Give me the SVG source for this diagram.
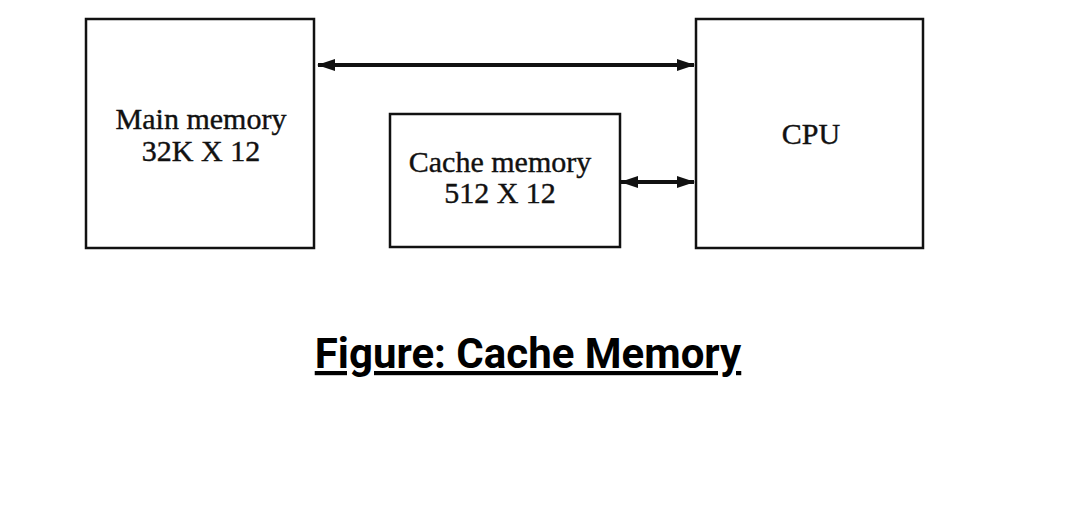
<svg xmlns="http://www.w3.org/2000/svg" width="1080" height="509" viewBox="0 0 1080 509">
<style>
.box{fill:#fff;stroke:#111;stroke-width:2.5}
.lbl{font-family:"Liberation Serif","Times New Roman",serif;font-size:30px;fill:#111;stroke:#111;stroke-width:0.4;text-anchor:middle}
.conn{stroke:#111;stroke-width:4;fill:none}
.cap{font-family:Roboto,"Liberation Sans",sans-serif;font-weight:bold;font-size:42px;fill:#000;text-anchor:middle;text-decoration:underline}
</style>
<defs>
<marker id="ah" viewBox="0 0 18 12" refX="17" refY="6" markerWidth="18" markerHeight="12" markerUnits="userSpaceOnUse" orient="auto-start-reverse">
<path d="M0,0 L18,6 L0,12 Z" fill="#111"/>
</marker>
</defs>
<rect width="1080" height="509" fill="#fff"/>
<g id="main-memory">
<rect class="box" x="86" y="19" width="228" height="229"/>
<text class="lbl" x="201" y="129">Main memory</text>
<text class="lbl" x="201" y="161">32K X 12</text>
</g>
<g id="cache-memory">
<rect class="box" x="390" y="114" width="230" height="133"/>
<text class="lbl" x="500" y="172">Cache memory</text>
<text class="lbl" x="500" y="203">512 X 12</text>
</g>
<g id="cpu">
<rect class="box" x="696" y="19" width="227" height="229"/>
<text class="lbl" x="811" y="144">CPU</text>
</g>
<g id="connectors">
<line class="conn" x1="318" y1="65" x2="694" y2="65" marker-start="url(#ah)" marker-end="url(#ah)"/>
<line class="conn" x1="621" y1="182" x2="694" y2="182" marker-start="url(#ah)" marker-end="url(#ah)"/>
</g>
<text class="cap" x="528" y="368">Figure: Cache Memory</text>
</svg>
